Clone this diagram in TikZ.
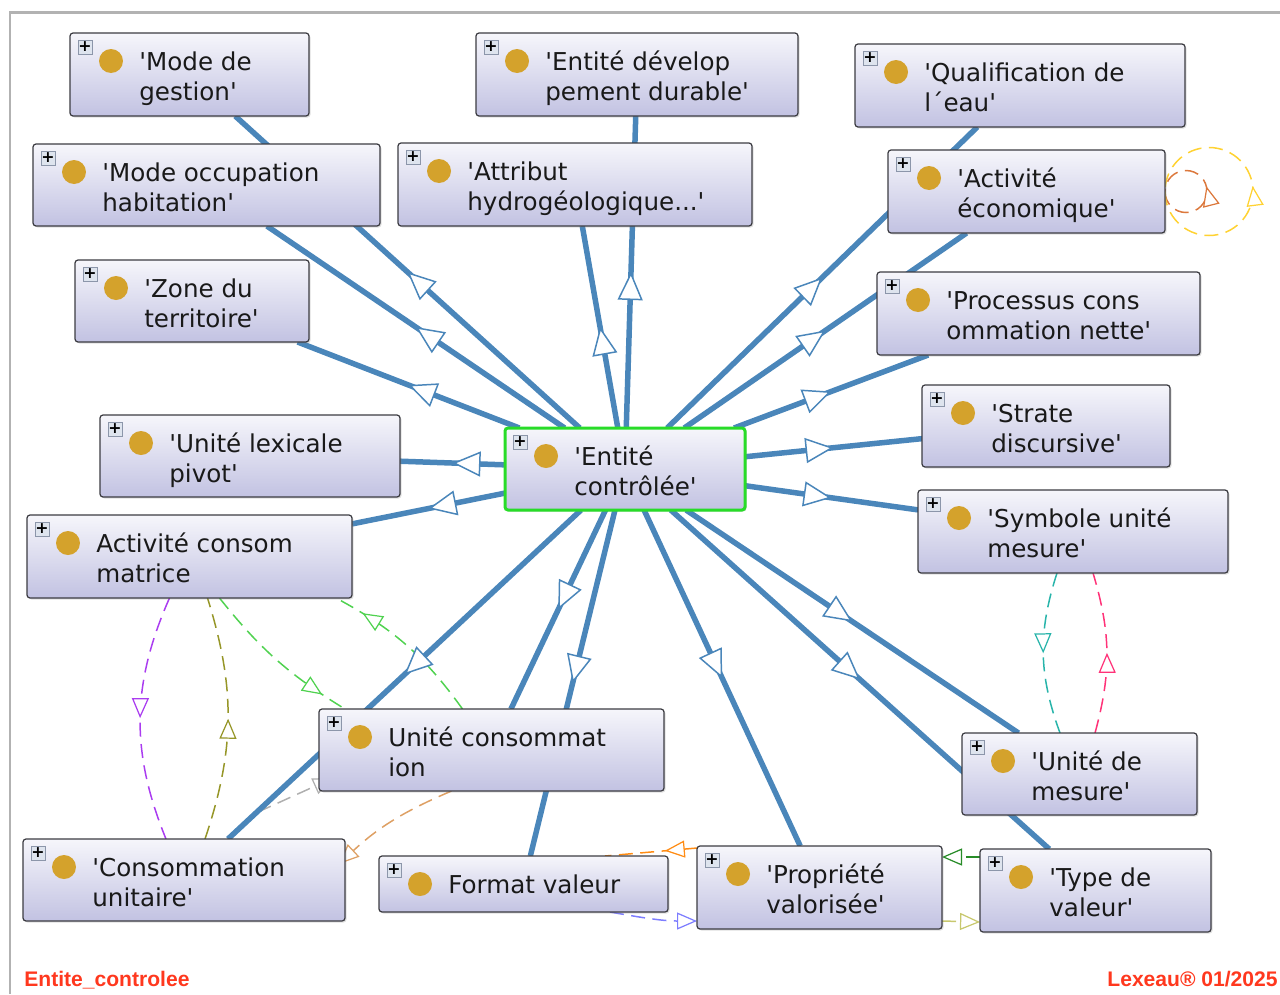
\documentclass[tikz,border=0pt]{standalone}
\usepackage{fontspec}
\newfontfamily\entfont{DejaVu Sans}
\newfontfamily\footfont{Liberation Sans}
\usetikzlibrary{arrows.meta,decorations.markings,backgrounds,shadows}

\definecolor{isablue}{RGB}{74,134,186}
\definecolor{boxline}{RGB}{60,60,66}
\definecolor{boxtop}{RGB}{246,246,251}
\definecolor{boxbot}{RGB}{194,194,226}
\definecolor{dotgold}{RGB}{212,162,44}
\definecolor{plusfill}{RGB}{222,228,238}
\definecolor{plusline}{RGB}{140,150,170}
\definecolor{ctrlgreen}{RGB}{40,220,40}
\definecolor{framegray}{RGB}{178,178,178}
\definecolor{footred}{RGB}{255,56,30}
\definecolor{cPurple}{RGB}{170,60,240}
\definecolor{cOlive}{RGB}{150,150,40}
\definecolor{cLime}{RGB}{80,210,80}
\definecolor{cGray}{RGB}{175,175,175}
\definecolor{cTan}{RGB}{222,160,100}
\definecolor{cOrange}{RGB}{255,140,20}
\definecolor{cViolet}{RGB}{125,125,255}
\definecolor{cDkGreen}{RGB}{40,140,40}
\definecolor{cKhaki}{RGB}{200,200,110}
\definecolor{cTeal}{RGB}{40,180,170}
\definecolor{cPink}{RGB}{255,50,120}
\definecolor{cRust}{RGB}{220,120,60}
\definecolor{cGold}{RGB}{255,210,50}

\tikzset{
  ent/.style={draw=boxline, line width=0.7pt, rounded corners=0.06cm,
    top color=boxtop, bottom color=boxbot, inner sep=0pt, outer sep=0pt,
    drop shadow={shadow xshift=0.03cm, shadow yshift=-0.03cm, opacity=0.25}},
  plusbox/.style={draw=plusline, fill=plusfill, minimum size=0.28cm, inner sep=0pt,
    font=\entfont\bfseries\fontsize{9}{9}\selectfont},
  dot/.style={circle, fill=dotgold, minimum size=0.48cm, inner sep=0pt},
  lbl/.style={align=left, inner sep=0pt, text=black!90,
    font=\entfont\fontsize{14}{17}\selectfont},
  foot/.style={inner sep=0pt, text=footred, font=\footfont\bfseries\fontsize{12}{12}\selectfont},
  isa/.style={draw=isablue, line width=0.11cm,
    postaction={decorate, decoration={markings, mark=at position 0.5 with
      {\arrow{Triangle[length=0.56cm, width=0.5cm, fill=white, line width=0.85pt]}}}}},
  prop/.style={line width=0.85pt, dash pattern=on 0.28cm off 0.15cm},
  mid/.style={postaction={decorate, decoration={markings, mark=at position #1 with
      {\pgfsetdash{}{0pt}\arrow{Triangle[length=0.4cm, width=0.34cm, fill=white, line width=0.7pt]}}}}},
  tip/.style={-{Triangle[length=0.4cm, width=0.34cm, fill=white, line width=0.7pt]}}
}

\begin{document}
\begin{tikzpicture}[x=0.02cm, y=0.02cm]
  \useasboundingbox (0,0) rectangle (1280,-994);
  \draw[framegray, line width=0.06cm] (10,-994) -- (10,-12) -- (1280,-12);

  % concepts
  \foreach \n/\x/\y/\w/\h/\txt in {
    gestion/70/33/239/83/{'Mode de\\gestion'},
    devDur/476/33/322/83/{'Entité dévelop\\pement durable'},
    qualif/855/44/330/83/{'Qualification de\\l´eau'},
    occup/33/144/347/82/{'Mode occupation\\habitation'},
    attrib/398/143/354/83/{'Attribut\\hydrogéologique...'},
    actEco/888/150/277/83/{'Activité\\économique'},
    zone/75/260/234/82/{'Zone du\\territoire'},
    processus/877/272/323/83/{'Processus cons\\ommation nette'},
    strate/922/385/248/82/{'Strate\\discursive'},
    lexPivot/100/415/300/82/{'Unité lexicale\\pivot'},
    ctrl/505/428/240/82/{'Entité\\contrôlée'},
    actCons/27/515/325/83/{Activité consom\\matrice},
    symUnit/918/490/310/83/{'Symbole unité\\mesure'},
    uniteCons/319/709/345/82/{Unité consommat\\ion},
    uniteMes/962/733/235/82/{'Unité de\\mesure'},
    consoUnit/23/839/322/82/{'Consommation\\unitaire'},
    formatVal/379/856/289/56/{Format valeur},
    propVal/697/846/245/83/{'Propriété\\valorisée'},
    typeVal/980/849/231/83/{'Type de\\valeur'}}
  {
    \node[ent, minimum width=\w*0.02cm, minimum height=\h*0.02cm, anchor=north west] (\n) at (\x,-\y) {};
    \node[plusbox] (\n-p) at ([shift={(15,-14)}]\n.north west) {+};
    \node[dot] (\n-d) at ([shift={(41,-28)}]\n.north west) {};
    \node[lbl, anchor=north west] (\n-t) at ([shift={(69,-16)}]\n.north west) {\strut\txt};
  }
  \draw[ctrlgreen, line width=0.06cm, rounded corners=0.06cm] (ctrl.north west) rectangle (ctrl.south east);
  \coordinate (gstart) at (258,-812);

  \begin{scope}[on background layer]
    % object properties
    \draw[prop, cPurple, mid=0.5] ([shift={(-20,0)}]actCons.south) to[bend right=23] ([shift={(-18,0)}]consoUnit.north);
    \draw[prop, cOlive, mid=0.5] ([shift={(21,0)}]consoUnit.north) to[bend right=18] ([shift={(18,0)}]actCons.south);
    \draw[prop, cLime, mid=0.84] ([shift={(30,0)}]actCons.south) to[bend right=10] ([shift={(26,0)}]uniteCons.north west);
    \draw[prop, cLime, mid=0.82] ([shift={(-29,0)}]uniteCons.north) to[bend right=13] ([shift={(-16,0)}]actCons.south east);
    \draw[prop, cGray, tip] (gstart) -- ([shift={(14,-28)}]uniteCons.west);
    \draw[prop, cTan, tip] ([shift={(-40,0)}]uniteCons.south) to[bend right=10] ([shift={(-6,-25)}]consoUnit.north east);
    \draw[prop, cOrange, mid=0.35] ([shift={(0,-2)}]propVal.north west) -- ([shift={(-63,0)}]formatVal.north east);
    \draw[prop, cViolet, tip] ([shift={(-58,0)}]formatVal.south east) to[out=-10, in=180] ([shift={(0,8)}]propVal.south west);
    \draw[prop, cDkGreen, tip] ([shift={(0,-8)}]typeVal.north west) -- ([shift={(0,-11)}]propVal.north east);
    \draw[prop, cKhaki, tip] ([shift={(0,8)}]propVal.south east) -- ([shift={(0,10)}]typeVal.south west);
    \draw[prop, cTeal, mid=0.5] ([shift={(-16,0)}]symUnit.south) to[bend right=19] ([shift={(-19.5,0)}]uniteMes.north);
    \draw[prop, cPink, mid=0.5] ([shift={(15.5,0)}]uniteMes.north) to[bend right=16] ([shift={(20,0)}]symUnit.south);
    \draw[prop, cRust, mid=0.54] (actEco.east) arc[start angle=180, end angle=540, radius=21];
    \draw[prop, cGold, mid=0.52] (actEco.east) arc[start angle=180, end angle=540, radius=44];
    % subclass links
    \foreach \t in {gestion,occup,zone,devDur,attrib,qualif,actEco,processus,strate,
      symUnit,lexPivot,actCons,consoUnit,uniteCons,formatVal,propVal,uniteMes,typeVal}
    \draw[isa] (ctrl) -- (\t);
  \end{scope}

  \node[foot, anchor=base west] (fname) at (24,-986) {Entite\_controlee};
  \node[foot, anchor=base east] (fcopy) at (1278,-986) {Lexeau® 01/2025};
\end{tikzpicture}
\end{document}
